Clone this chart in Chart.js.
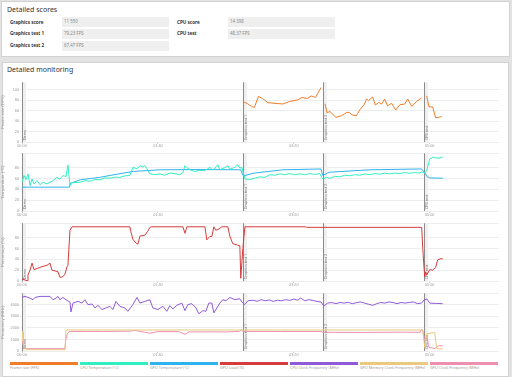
<!DOCTYPE html>
<html>
<head>
<meta charset="utf-8">
<script src="https://cdn.jsdelivr.net/npm/chart.js@4.4.0/dist/chart.umd.min.js"></script>
<style>
body { margin:0; width:512px; height:377px; background:#e3e3e3; font-family:'Noto Sans', sans-serif; position:relative; overflow:hidden }
.panel { position:absolute; background:#fff; border:1px solid #d2d2d2; box-sizing:border-box }
.title { position:absolute; font-size:7px; color:#333; white-space:nowrap }
.lbl { position:absolute; font-size:4.6px; font-weight:bold; color:#333; white-space:nowrap; line-height:9px }
.val { position:absolute; background:#efefef; font-size:4.4px; color:#888; line-height:9.5px; padding-left:2px; box-sizing:border-box; height:9.5px; width:107px }
canvas { position:absolute; left:0 }
.lg { position:absolute; top:362px; width:68px; height:2.5px }
.lgt { position:absolute; top:365px; font-size:3.8px; color:#999; white-space:nowrap }
</style>
</head>
<body>

<div class="panel" style="left:1px; top:1px; width:509px; height:56px"></div>
<div class="title" style="left:7px; top:5px">Detailed scores</div>
<div class="lbl" style="left:10px; top:17.5px">Graphics score</div>
<div class="lbl" style="left:10px; top:29px">Graphics test 1</div>
<div class="lbl" style="left:10px; top:41px">Graphics test 2</div>
<div class="val" style="left:62px; top:17.3px">11 550</div>
<div class="val" style="left:62px; top:29px">79.23 FPS</div>
<div class="val" style="left:62px; top:41px">67.47 FPS</div>
<div class="lbl" style="left:177px; top:17.5px">CPU score</div>
<div class="lbl" style="left:177px; top:29px">CPU test</div>
<div class="val" style="left:228px; top:17.3px">14 398</div>
<div class="val" style="left:228px; top:29px">48.37 FPS</div>

<div class="panel" style="left:2px; top:62px; width:507px; height:315px"></div>
<div class="title" style="left:7px; top:65px">Detailed monitoring</div>

<canvas id="c1" width="505" height="69" style="top:79px"></canvas>
<canvas id="c2" width="505" height="67" style="top:150px"></canvas>
<canvas id="c3" width="505" height="67" style="top:220px"></canvas>
<canvas id="c4" width="505" height="67" style="top:290px"></canvas>

<div id="legend"></div>

<script>
// test markers (seconds)
const markerTimes = [0, 162.5, 221.3, 295.6]
const markerNames = ['Demo', 'Graphics test 1', 'Graphics test 2', 'CPU test']
const xTicks = [0, 100, 200, 300]

// frame rate
const fpsT = [163,166,169,171,174,177,181,192,197,203,206,210,213,216,218,220,221.5,223,224.5,226.5,231,235,239,241,242.5,246,248.5,252,253.5,255,258,260,262.5,264.7,266.9,269,272,275,278,281.6,283.8,286.8,290.4,294,296,297.8,299.5,302.2,304.4,308.8]
const fpsV = [77,73,68,66,87,83,75,72.5,77.5,80.5,85,83,88,85,94.5,104,null,72.5,55.5,58.5,47,50,56.5,56.5,52,50,61,72.5,82,79,86,70.5,75.5,72.5,82,69,74,61,71,72.5,82,68,77.5,84,null,88,67,67,46,48.5]

// temperatures
const cpuTempT = [0,1.5,2.9,4.4,5.9,7.4,8.8,11,13.2,15.4,18.4,20.6,22.8,25.7,27.9,30.1,32.4,33.8,35.3,36,42.6,46.3,50,53.7,57.4,61,64.7,68.4,72,75.7,79.4,81.6,84.6,86.8,89,90.4,91.9,94,97.8,101.5,105,108.8,112.5,116,118.4,119.9,121.3,123.5,127.2,130.9,134.6,138.2,140.4,141.9,144.1,145.6,147,149.3,151.5,152.9,155.1,157.4,158.8,160.3,161.8,164,167.6,171.3,175,178.7,182.4,186,189.7,193.4,197,200.7,204.4,208,211.8,215.4,219,221.3,224.3,226.5,230,233.8,237.5,241.2,244.9,248.5,252.2,255.9,259.6,263.2,266.9,270.6,274.3,277.9,281.6,285.3,289,292.6,294.1,296.3,297.8,300,302.2,304.4,307.4,309.6]
const cpuTempV = [53,65.5,57.6,68.5,47,59,50,56,48.5,53,50,53,56,62,59,65.5,63.6,85,47,52,53,56,55,58,57.6,61,60.5,62.5,62,65,65.5,80.5,78,83.6,81,84,78,68.5,67,68.5,66,70,69,67,71,83.6,80,76,73,75,74.5,80.5,76,79,85.5,76,78,80,83.6,77,79,82,85.5,79,80.5,59.4,58,60.5,63,62,67,66,68.5,67,69,67,68.5,67,69,67.5,69,59,62,60,64,63,66,65,67,66,68.5,67,69,68,70,68.5,70,69,71,69.5,71,70,72,70,74.5,96,99,98,97.5,100]
const gpuTempT = [0,35,35.5,43,57,70,82,101,131,161,162.5,164,171,192,220,221.3,226,256,294,296.5,298,300,309.6]
const gpuTempV = [44,44,51,57.6,62,68,73,76,76.5,76,66,65.5,70,76,77.6,65.5,71.5,76,77.6,70,63.6,61,60.5]

// gpu load
const loadT = [0,2.2,3.7,4.4,5.9,7.4,8.8,13.2,15.4,18.4,20.6,22,24.3,26.5,27.9,30.1,31.6,33.1,33.8,35.3,36.8,79.4,80.1,81.6,83.8,85.3,86.8,90.4,92.6,94.1,95.6,118.4,119.9,121.3,134.6,136,138.2,139.7,141.2,142.6,144.9,147,151.5,152.9,155.1,158.8,160.3,161,162.5,164,208.8,209.5,294.1,294.9,296.3,297,297.8,300,302.2,304.4,305.9,308.1,309.6]
const loadV = [3.6,2,0.5,11,20,33,21,25,27,29,33,20,18.6,17,6.7,8,12.7,26,29,93.5,100,100,91,77,70,68,83,84.5,92,99,100,100,88,100,100,76,82,82,100,93.5,96,100,100,83,69,66,65,5,60,100,100,99,99,60,8,17,11,21,20,25,39,41,41]

// clocks
const cpuClkT = [0,2.2,5.9,8.1,9.6,13.2,20.6,22.8,25,26.5,27.9,30.1,32.4,35.3,36,37.5,41.2,44.1,46.3,48.5,51.5,53.7,55.9,58.8,61.8,64.7,66.9,69.1,72,75.7,77.9,81.6,84.6,86.8,90.4,94.1,96.3,100,103.7,106.6,108.8,111,114,117.6,119.9,122,125,128,130.1,133.1,135.3,137.5,139.7,141.2,143.4,145.6,147.8,150,152.9,156.6,160.3,161.8,164,166.2,170,173,176,179,182,185,188,191,194,197,200,203,205,208,211,214,217,220,222,225,228,231,234,237,240,243,246,249,252,255,258,261,264,267,270,273,276,279,282,285,288,291,294,296,298,300,305,309.5]
const cpuClkV = [4640,4730,4580,4440,4640,4730,4730,4440,4580,4730,4440,4640,4440,4240,3380,4150,4300,4150,4440,4020,4070,3730,3960,3590,3730,3870,3590,4300,3870,3730,3440,4020,4640,4150,4300,4440,3730,3590,3870,3440,3930,3650,3960,4150,3500,4020,4100,3730,3220,3500,3440,4150,4150,3300,3730,4150,4440,4350,4640,4440,4530,4240,4020,4350,4400,4300,4450,4350,4420,4300,4400,4350,4450,4380,4500,4400,4600,4350,4450,4380,4300,4250,3900,4150,4200,4100,4200,4150,4220,4100,4180,4250,4150,4050,3950,4100,4200,4150,4250,4200,4100,4200,4150,4200,4250,4100,4150,4440,4500,4150,4120,4100]
const memClkT = [0,0.7,1.5,3.7,31.6,32.4,33.1,294.1,294.9,296.3,297.8,303.7,305.1,309.6]
const memClkV = [1740,880,310,110,110,1800,1820,1820,1820,310,1500,1600,220,170]
const gpuClkT = [0,0.7,1.5,3.7,31.6,32.4,33.1,34.6,48,60,80,83,87,94,100,115,120,123,140,150,160,161.5,162.5,190,220,221.3,250,280,293,294,295,296.3,297.8,299.5,303.7,306.6,309.6]
const gpuClkV = [1600,620,300,200,200,1160,1450,1680,1700,1690,1720,1780,1700,1540,1680,1680,1450,1650,1660,1650,1700,1850,1700,1690,1690,1620,1610,1630,1620,1880,1700,890,1310,310,220,450,450]

const legendNames = ['Frame rate (FPS)', 'CPU Temperature (°C)', 'GPU Temperature (°C)', 'GPU Load (%)', 'CPU Clock Frequency (MHz)', 'GPU Memory Clock Frequency (MHz)', 'GPU Clock Frequency (MHz)']
const legendColors = ['#f07c2c', '#32efc2', '#2eb2f0', '#d63c3c', '#8f5ad8', '#e8c97e', '#ef8fb0']

function pts(t, v)
{
  return t.map(function(x, i){ return { x: x, y: v[i] } })
}

function clock(s)
{
  const m = Math.floor(s / 60)
  const r = s % 60
  return String(m).padStart(2, '0') + ':' + String(r).padStart(2, '0')
}

// vertical test lines with rotated names
const markers = {
  id: 'markers',
  beforeDatasetsDraw: function(chart)
  {
    const ctx = chart.ctx
    const a = chart.chartArea
    const xs = chart.scales.x
    ctx.save()
    markerTimes.forEach(function(t, i){
      const x = Math.round(xs.getPixelForValue(t)) + 0.5
      ctx.fillStyle = '#f0f0f0'
      ctx.fillRect(x - 0.5, a.top, 4, a.bottom - a.top)
      ctx.strokeStyle = '#8c8c8c'
      ctx.lineWidth = 1
      ctx.beginPath()
      ctx.moveTo(x, a.top)
      ctx.lineTo(x, a.bottom)
      ctx.stroke()
      ctx.save()
      ctx.translate(x + 2.3, a.bottom - 2)
      ctx.rotate(-Math.PI / 2)
      ctx.fillStyle = '#777'
      ctx.font = '3.6px "Noto Sans"'
      ctx.textAlign = 'left'
      ctx.textBaseline = 'middle'
      ctx.fillText(markerNames[i], 0, 0)
      ctx.restore()
    })
    ctx.restore()
  }
}

function makeChart(id, title, max, step, labelStep, hideAbove, datasets)
{
  return new Chart(document.getElementById(id), {
    type: 'line',
    data: { datasets: datasets },
    plugins: [markers],
    options: {
      responsive: false,
      animation: false,
      devicePixelRatio: 1,
      layout: { padding: { top: 2, right: 6, left: 0, bottom: 0 } },
      elements: { point: { radius: 0 }, line: { borderWidth: 1, tension: 0 } },
      plugins: { legend: { display: false }, tooltip: { enabled: false } },
      scales: {
        x: {
          type: 'linear', min: 0, max: 351,
          afterBuildTicks: function(s){ s.ticks = xTicks.map(function(v){ return { value: v } }) },
          afterFit: function(s){ s.height = 6 },
          grid: { drawOnChartArea: false, tickLength: 2, color: '#ccc' },
          border: { display: false },
          ticks: { font: { size: 3.8 }, color: '#999', padding: 0, maxRotation: 0, callback: function(v){ return clock(v) } }
        },
        y: {
          min: 0, max: max,
          afterFit: function(s){ s.width = 22 },
          grid: { color: '#ededed', tickLength: 2 },
          border: { color: '#c4c4c4' },
          title: { display: true, text: title, font: { size: 4.3 }, color: '#999', padding: 0 },
          ticks: {
            stepSize: step, font: { size: 3.8 }, color: '#999', padding: 1,
            callback: function(v){ return (v % labelStep === 0 && v <= hideAbove) ? v : '' }
          }
        }
      }
    }
  })
}

makeChart('c1', 'Frame rate (FPS)', 114, 10, 20, 100, [
  { data: pts(fpsT, fpsV), borderColor: legendColors[0] }
])
makeChart('c2', 'Temperature (°C)', 106.5, 10, 20, 100, [
  { data: pts(cpuTempT, cpuTempV), borderColor: legendColors[1] },
  { data: pts(gpuTempT, gpuTempV), borderColor: legendColors[2] }
])
makeChart('c3', 'Percentage (%)', 106.5, 10, 20, 100, [
  { data: pts(loadT, loadV), borderColor: legendColors[3] }
])
makeChart('c4', 'Frequency (MHz)', 5000, 500, 1000, 4000, [
  { data: pts(cpuClkT, cpuClkV), borderColor: legendColors[4] },
  { data: pts(memClkT, memClkV), borderColor: legendColors[5] },
  { data: pts(gpuClkT, gpuClkV), borderColor: legendColors[6] }
])

// legend strip
const legend = document.getElementById('legend')
legendNames.forEach(function(name, i){
  const bar = document.createElement('div')
  bar.className = 'lg'
  bar.style.left = (10 + i * 70) + 'px'
  bar.style.background = legendColors[i]
  const txt = document.createElement('div')
  txt.className = 'lgt'
  txt.style.left = (10 + i * 70) + 'px'
  txt.innerHTML = name
  legend.appendChild(bar)
  legend.appendChild(txt)
})
</script>
</body>
</html>
